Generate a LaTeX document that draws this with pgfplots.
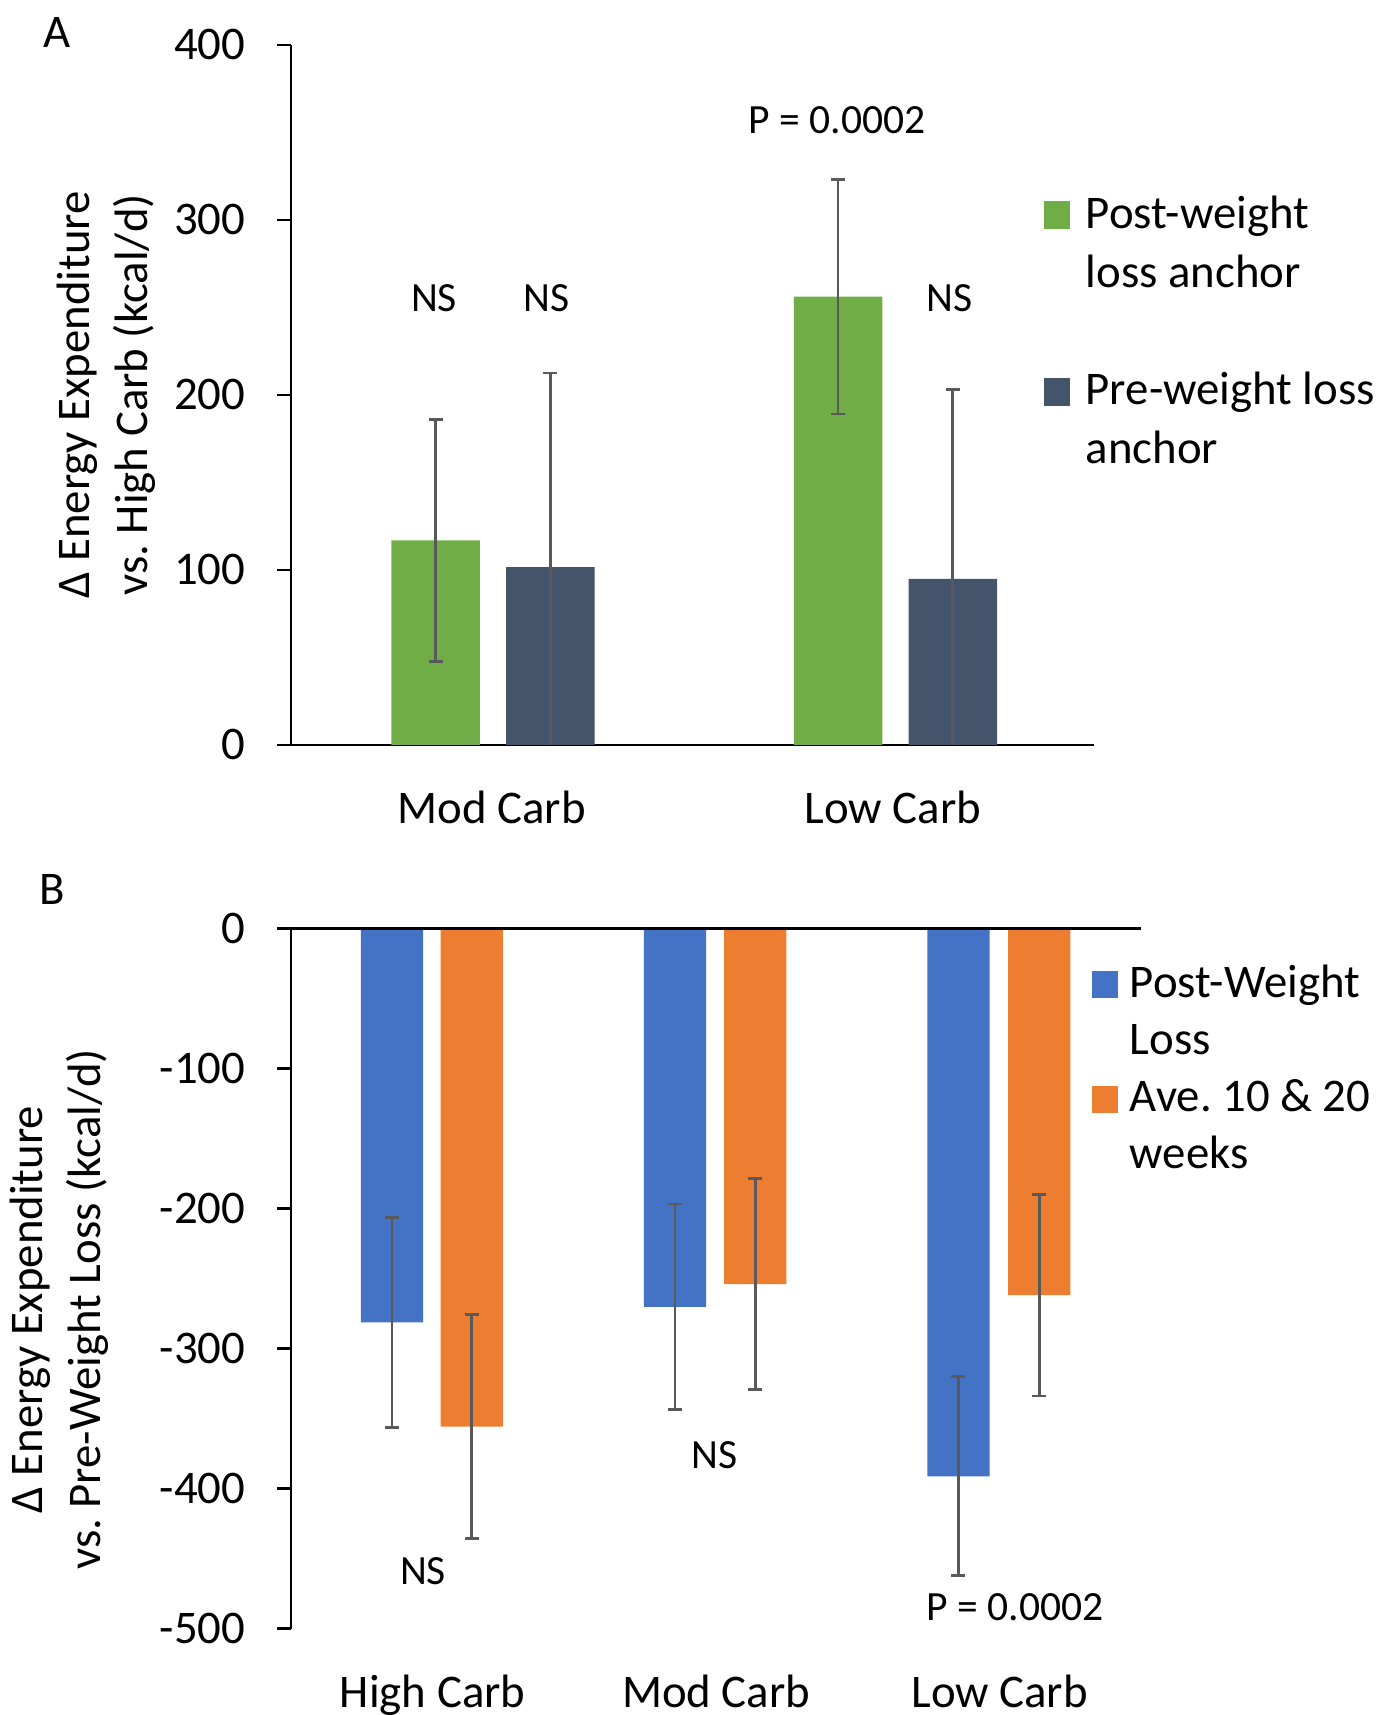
\documentclass[border=0pt]{standalone}
\usepackage{pgfplots}
\pgfplotsset{compat=1.18}
\usepackage{fontspec}
\setmainfont{Carlito}
\frenchspacing
\definecolor{cgreen}{HTML}{70AD47}
\definecolor{cdark}{HTML}{44546A}
\definecolor{cblue}{HTML}{4472C4}
\definecolor{corange}{HTML}{ED7D31}
\definecolor{cerr}{HTML}{595959}
\newcommand\fs{\fontsize{10.7}{13.2}\selectfont}
\newcommand\fa{\fontsize{9.5}{11.5}\selectfont}
\pgfplotsset{
  mystyle/.style={
    scale only axis,
    axis x line*=bottom, axis y line*=left,
    axis line style={line width=0.6pt, black},
    ytick style={line width=0.6pt, black},
    xtick style={draw=none},
    tick align=outside, major tick length=3.2pt,
    ticklabel style={font=\fs},
    yticklabel style={inner sep=0pt, xshift=-7pt},
    xticklabel style={inner sep=0pt, anchor=north, yshift=-7.25pt},
    every axis y label/.style={rotate=90, anchor=center, align=center, font=\fs},
    legend style={draw=none, fill=none, inner sep=0pt, outer sep=0pt,
      row sep=0pt, column sep=3.5pt, font=\fs,
      nodes={inner sep=0pt, text height=9pt, text depth=4.44pt},
      cells={anchor=base west}},
  },
  ebar/.style={error bars/.cd, y dir=both, y explicit,
    error bar style={cerr, line width=0.65pt},
    error mark options={rotate=90, mark size=1.6pt, line width=0.65pt, cerr}},
}
\begin{document}
\begin{tikzpicture}
\begin{scope}[x=0.25pt,y=-0.25pt]
\coordinate (pA) at (266,681);
\coordinate (pB) at (266,1489);
\node[font=\fs] at (52,30) {A};
\node[font=\fs] at (48,813) {B};
\end{scope}

% Panel A
\begin{axis}[mystyle,
  at={(pA)}, anchor=south west,
  width=183.5pt, height=160pt,
  xmin=-0.5, xmax=1.5, ymin=0, ymax=400,
  xtick={0,1}, xticklabels={Mod Carb, Low Carb},
  ytick={0,100,200,300,400}, yticklabels={0,100,200,300,400},
  ylabel={Δ Energy Expenditure\\vs. High Carb (kcal/d)},
  every axis y label/.append style={at={(axis description cs:-0.23,0.5)}},
  legend style={at={(axis description cs:0.9375,0.794)}, anchor=north west},
  clip=true,
]
\addplot+[forget plot, ybar, bar shift=0pt, bar width=0.2204, fill=cgreen, draw=none, mark=none, ebar]
  coordinates {(-0.1395,116.8) +- (0,69.2) (0.863,256.1) +- (0,67.0)};
\addplot+[forget plot, ybar, bar shift=0pt, bar width=0.2204, fill=cdark, draw=none, mark=none, ebar]
  coordinates {(0.1463,101.6) +- (0,110.9) (1.149,94.8) +- (0,108.1)};
\addlegendimage{legend image code/.code={\fill[cgreen] (0pt,0pt) rectangle (5.75pt,6pt);}}
\addlegendentry{Post-weight}
\addlegendimage{empty legend}
\addlegendentry{loss anchor}
\addlegendimage{empty legend}
\addlegendentry{}
\addlegendimage{legend image code/.code={\fill[cdark] (0pt,0pt) rectangle (5.75pt,6pt);}}
\addlegendentry{Pre-weight loss}
\addlegendimage{empty legend}
\addlegendentry{anchor}
\node[font=\fa] at (axis cs:-0.1435,255) {NS};
\node[font=\fa] at (axis cs:0.137,255) {NS};
\node[font=\fa] at (axis cs:1.141,255) {NS};
\node[font=\fa] at (axis cs:0.861,357) {P = 0.0002};
\end{axis}

% Panel B
\begin{axis}[mystyle,
  at={(pB)}, anchor=south west,
  width=194.4pt, height=160pt,
  xmin=-0.5, xmax=2.5, ymin=-500, ymax=0,
  xtick={0,1,2}, xticklabels={High Carb, Mod Carb, Low Carb},
  ytick={-500,-400,-300,-200,-100,0}, yticklabels={-500,-400,-300,-200,-100,0},
  x axis line style={draw=none},
  ylabel={Δ Energy Expenditure\\vs. Pre-Weight Loss (kcal/d)},
  every axis y label/.append style={at={(axis description cs:-0.272,0.456)}},
  legend style={at={(axis description cs:0.9416,0.958)}, anchor=north west,
    column sep=2.8pt,
    nodes={inner sep=0pt, text height=9pt, text depth=4.07pt}},
  clip=false,
]
\addplot+[forget plot, ybar, bar shift=0pt, bar width=0.2197, fill=cblue, draw=none, mark=none, ebar]
  coordinates {(-0.1435,-281.2) +- (0,75.0) (0.8545,-270.1) +- (0,73.4) (1.8545,-391.2) +- (0,71.0)};
\addplot+[forget plot, ybar, bar shift=0pt, bar width=0.2197, fill=corange, draw=none, mark=none, ebar]
  coordinates {(0.1378,-355.7) +- (0,80.2) (1.1378,-254.0) +- (0,75.5) (2.1397,-261.8) +- (0,72.0)};
\draw[line width=0.6pt, black] (axis cs:-0.5,0) -- (axis cs:2.5,0);
\addlegendimage{legend image code/.code={\fill[cblue] (0pt,0pt) rectangle (5.5pt,5.75pt);}}
\addlegendentry{Post-Weight}
\addlegendimage{empty legend}
\addlegendentry{Loss}
\addlegendimage{legend image code/.code={\fill[corange] (0pt,0pt) rectangle (5.5pt,5.75pt);}}
\addlegendentry{Ave. 10 \& 20}
\addlegendimage{empty legend}
\addlegendentry{weeks}
\node[font=\fa] at (axis cs:-0.034,-459) {NS};
\node[font=\fa] at (axis cs:0.995,-375.8) {NS};
\node[font=\fa] at (axis cs:2.055,-485) {P = 0.0002};
\end{axis}

\pgfresetboundingbox
\path[use as bounding box] (0pt,0pt) rectangle (317pt,-392pt);
\end{tikzpicture}
\end{document}
